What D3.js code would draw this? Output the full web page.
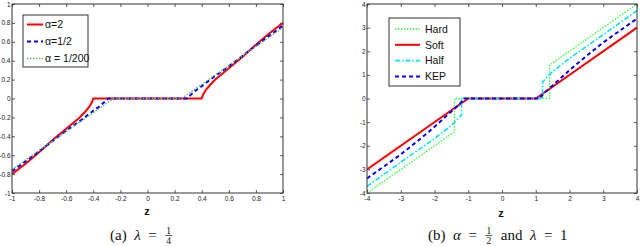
<!DOCTYPE html>
<html>
<head>
<meta charset="utf-8">
<script src="https://cdnjs.cloudflare.com/ajax/libs/d3/7.8.5/d3.min.js"></script>
<style>
  body { margin: 0; background: #fff; }
  svg { display: block; }
  .tick text { font-family: "Liberation Sans Narrow", "Liberation Sans", Arial, sans-serif; font-size: 6.5px; fill: #222; }
  .leg { font-family: "Liberation Sans Narrow", "Liberation Sans", Arial, sans-serif; font-size: 10.5px; fill: #111; }
  .cap { font-family: "Liberation Serif", "DejaVu Serif", serif; font-size: 15px; fill: #111; }
</style>
</head>
<body>
<div id="chartDiv"></div>
<script>
// ---- panel (a): lambda = 1/4 ----
const aTicks = [-1, -0.8, -0.6, -0.4, -0.2, 0, 0.2, 0.4, 0.6, 0.8, 1];
const aLabels = ['-1', '-0.8', '-0.6', '-0.4', '-0.2', '0', '0.2', '0.4', '0.6', '0.8', '1'];

const a2Z = [-1, -0.9, -0.8, -0.7, -0.6, -0.5, -0.46, -0.43, -0.41, -0.4, 0.4, 0.41, 0.43, 0.46, 0.5, 0.6, 0.7, 0.8, 0.9, 1];
const a2Y = [-0.8, -0.69, -0.57, -0.44, -0.32, -0.2, -0.14, -0.09, -0.04, 0, 0, 0.04, 0.09, 0.14, 0.2, 0.32, 0.44, 0.57, 0.69, 0.8];

const aHalfZ = [-1, -0.9, -0.8, -0.7, -0.6, -0.5, -0.4, -0.36, -0.32, -0.29, 0.29, 0.32, 0.36, 0.4, 0.5, 0.6, 0.7, 0.8, 0.9, 1];
const aHalfY = [-0.77, -0.665, -0.56, -0.45, -0.34, -0.24, -0.13, -0.09, -0.04, 0, 0, 0.04, 0.09, 0.13, 0.24, 0.34, 0.45, 0.56, 0.665, 0.77];

const a200Z = [-1, -0.25, 0.25, 1];
const a200Y = [-0.75, 0, 0, 0.75];

// ---- panel (b): alpha = 1/2, lambda = 1 ----
const bTicks = [-4, -3, -2, -1, 0, 1, 2, 3, 4];
const bLabels = ['-4', '-3', '-2', '-1', '0', '1', '2', '3', '4'];

const hardZ = [-4, -1.41, -1.41, 1.41, 1.41, 4];
const hardY = [-4, -1.41, 0, 0, 1.41, 4];

const softZ = [-4, -1, 1, 4];
const softY = [-3, 0, 0, 3];

const halfZ = [-4, -3, -2.3, -2, -1.6, -1.4, -1.2, -1.2, 1.2, 1.2, 1.4, 1.6, 2, 2.3, 3, 4];
const halfY = [-3.72, -2.7, -2.0, -1.7, -1.25, -1.0, -0.7, 0, 0, 0.7, 1.0, 1.25, 1.7, 2.0, 2.7, 3.72];

const kepZ = [-4, -3.5, -3, -2.5, -2, -1.5, -1.3, -1.2, -1.12, 1.12, 1.2, 1.3, 1.5, 2, 2.5, 3, 3.5, 4];
const kepY = [-3.38, -2.88, -2.37, -1.8, -1.2, -0.55, -0.3, -0.15, 0, 0, 0.15, 0.3, 0.55, 1.2, 1.8, 2.37, 2.88, 3.38];

const W = 640, H = 246;
const svg = d3.select('#chartDiv').append('svg').attr('width', W).attr('height', H);

const zip = (zs, ys) => zs.map((z, i) => [z, ys[i]]);

function drawPanel(cfg){
	const x = d3.scaleLinear().domain(cfg.domain).range([cfg.left, cfg.right]);
	const y = d3.scaleLinear().domain(cfg.domain).range([cfg.bottom, cfg.top]);
	const g = svg.append('g');

	// axes: matlab style inward ticks on all four sides
	const tl = 3;
	g.append('g').attr('transform', `translate(0,${cfg.bottom})`)
		.call(d3.axisBottom(x).tickValues(cfg.ticks).tickFormat((d, i) => cfg.labels[i]).tickSizeInner(-tl).tickSizeOuter(0).tickPadding(3.5));
	g.append('g').attr('transform', `translate(0,${cfg.top})`)
		.call(d3.axisTop(x).tickValues(cfg.ticks).tickFormat('').tickSizeInner(-tl).tickSizeOuter(0));
	g.append('g').attr('transform', `translate(${cfg.left},0)`)
		.call(d3.axisLeft(y).tickValues(cfg.ticks).tickFormat((d, i) => cfg.labels[i]).tickSizeInner(-tl).tickSizeOuter(0).tickPadding(1.5));
	g.append('g').attr('transform', `translate(${cfg.right},0)`)
		.call(d3.axisRight(y).tickValues(cfg.ticks).tickFormat('').tickSizeInner(-tl).tickSizeOuter(0));
	g.selectAll('.domain').remove();
	g.selectAll('.tick line').attr('stroke', '#333').attr('stroke-width', 0.8);

	const clipId = 'clip' + cfg.left;
	svg.append('clipPath').attr('id', clipId).append('rect')
		.attr('x', cfg.left).attr('y', cfg.top - 1).attr('width', cfg.right - cfg.left + 1).attr('height', cfg.bottom - cfg.top + 2);

	const line = d3.line().x(d => x(d[0])).y(d => y(d[1]));
	const lg = g.append('g').attr('clip-path', `url(#${clipId})`);
	cfg.series.forEach(s => {
		lg.append('path').datum(s.pts)
			.attr('d', line)
			.attr('fill', 'none')
			.attr('stroke', s.color)
			.attr('stroke-width', s.width)
			.attr('stroke-dasharray', s.dash);
	});

	// box
	g.append('rect').attr('x', cfg.left).attr('y', cfg.top)
		.attr('width', cfg.right - cfg.left).attr('height', cfg.bottom - cfg.top)
		.attr('fill', 'none').attr('stroke', '#333').attr('stroke-width', 1);

	// legend
	const L = cfg.legend;
	g.append('rect').attr('x', L.x).attr('y', L.y).attr('width', L.w).attr('height', L.h)
		.attr('fill', '#fff').attr('stroke', '#333').attr('stroke-width', 1);
	cfg.series.forEach((s, k) => {
		const yy = L.y + L.first + k * L.step;
		g.append('line').attr('x1', L.x + L.l1).attr('x2', L.x + L.l2).attr('y1', yy).attr('y2', yy)
			.attr('stroke', s.color).attr('stroke-width', s.width).attr('stroke-dasharray', s.dash);
		g.append('text').attr('class', 'leg').attr('x', L.x + L.tx).attr('y', yy + 3.8).text(s.name);
	});

	// z label
	g.append('text').attr('x', cfg.zx).attr('y', cfg.zy).attr('text-anchor', 'middle')
		.style('font-family', '"Liberation Sans", Arial, sans-serif').style('font-size', '11px').style('font-weight', 'bold')
		.attr('fill', '#111').text('z');
}

drawPanel({
	domain: [-1, 1], left: 12, right: 283, top: 4, bottom: 193,
	ticks: aTicks, labels: aLabels,
	series: [
		{ name: 'α=2', pts: zip(a2Z, a2Y), color: '#ff0000', width: 2, dash: null },
		{ name: 'α=1/2', pts: zip(aHalfZ, aHalfY), color: '#0000ff', width: 2, dash: '4,3' },
		{ name: 'α = 1/200', pts: zip(a200Z, a200Y), color: '#66b866', width: 1.4, dash: '1.5,1.5' }
	],
	legend: { x: 23, y: 15, w: 65, h: 52, first: 9.5, step: 17, l1: 4, l2: 20, tx: 22 },
	zx: 147, zy: 215
});

drawPanel({
	domain: [-4, 4], left: 367, right: 637, top: 4, bottom: 193,
	ticks: bTicks, labels: bLabels,
	series: [
		{ name: 'Hard', pts: zip(hardZ, hardY), color: '#33ff33', width: 1.3, dash: '1.5,1.5' },
		{ name: 'Soft', pts: zip(softZ, softY), color: '#ff0000', width: 2, dash: null },
		{ name: 'Half', pts: zip(halfZ, halfY), color: '#00e5ee', width: 1.6, dash: '5,2,1.5,2' },
		{ name: 'KEP', pts: zip(kepZ, kepY), color: '#0000ff', width: 2, dash: '4,3' }
	],
	legend: { x: 389, y: 18, w: 71, h: 68, first: 11, step: 15.8, l1: 6, l2: 31, tx: 36 },
	zx: 501, zy: 217
});

// captions: pieces laid out left to right, fractions stacked
function caption(x0, base, parts){
	let cx = x0;
	parts.forEach(p => {
		if (p.frac) {
			const fg = svg.append('g').attr('transform', `translate(${cx + 4.5},${base - 4.5})`);
			fg.append('text').attr('class', 'cap').attr('text-anchor', 'middle').attr('y', -2).style('font-size', '9.5px').text(p.frac[0]);
			fg.append('line').attr('x1', -3.5).attr('x2', 3.5).attr('stroke', '#111').attr('stroke-width', 0.7);
			fg.append('text').attr('class', 'cap').attr('text-anchor', 'middle').attr('y', 8.5).style('font-size', '9.5px').text(p.frac[1]);
			cx += 9;
		} else {
			const t = svg.append('text').attr('class', 'cap').attr('x', cx).attr('y', base)
				.attr('xml:space', 'preserve').style('white-space', 'pre')
				.style('font-style', p.it ? 'italic' : 'normal').text(p.t);
			cx += t.node().getComputedTextLength();
		}
	});
}

const eq = '\u2002=\u2002';
caption(110, 240, [{ t: '(a)\u2002' }, { t: 'λ', it: true }, { t: eq }, { frac: ['1', '4'] }]);
caption(428, 240, [{ t: '(b)\u2002' }, { t: 'α', it: true }, { t: eq }, { frac: ['1', '2'] }, { t: '\u2002and\u2002' }, { t: 'λ', it: true }, { t: eq + '1' }]);
</script>
</body>
</html>
